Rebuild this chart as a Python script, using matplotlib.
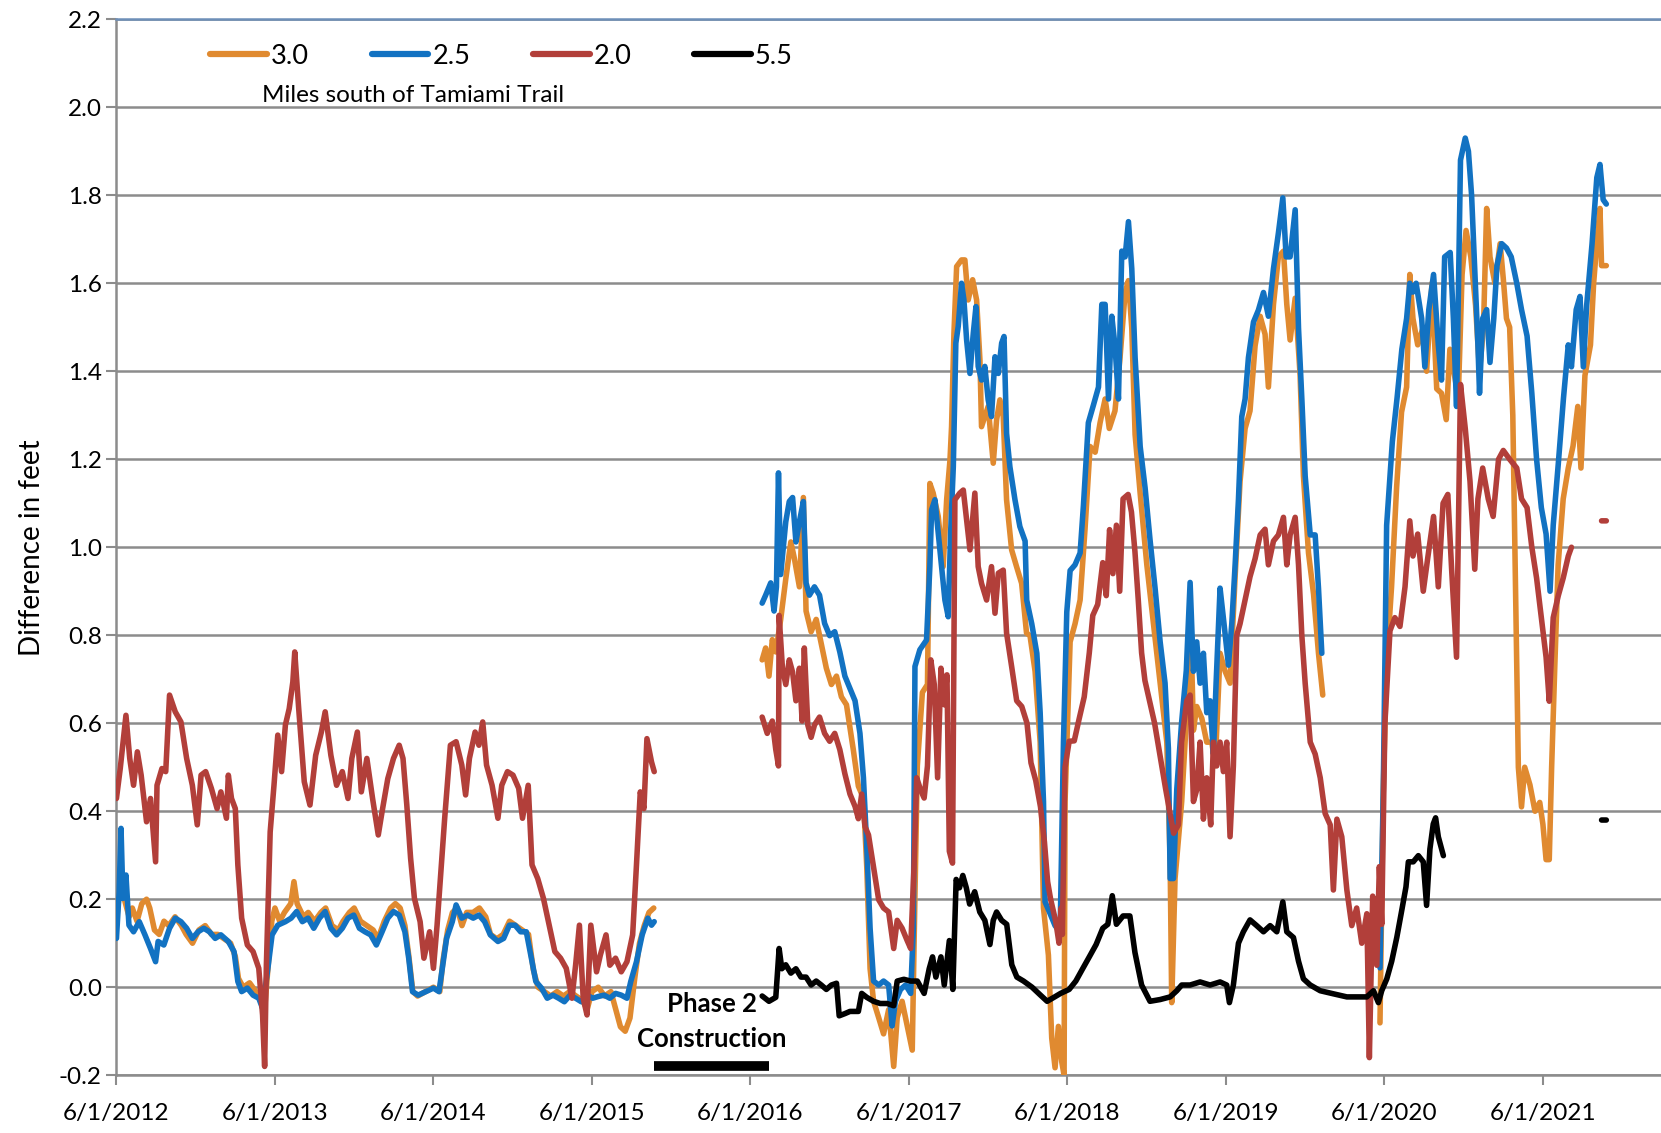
import numpy as np
import pandas as pd
import matplotlib
matplotlib.use("Agg")
import matplotlib.pyplot as plt
from matplotlib.ticker import FormatStrFormatter

plt.rcParams['font.family'] = ['Lato', 'DejaVu Sans']

# x values are years after 6/1/2012, nan marks a gap in the record
NAN = float('nan')

orange_30 = [
    (0, 0.15), (0.02, 0.22), (0.05, 0.2), (0.08, 0.16), (0.1, 0.18), (0.13, 0.15), (0.16, 0.19),
    (0.19, 0.2), (0.21, 0.18), (0.24, 0.13), (0.27, 0.12), (0.3, 0.15), (0.33, 0.14), (0.37, 0.16),
    (0.41, 0.14), (0.44, 0.12), (0.48, 0.1), (0.52, 0.13), (0.56, 0.14), (0.6, 0.12), (0.64, 0.12),
    (0.68, 0.11), (0.72, 0.1), (0.75, 0.07), (0.77, 0.02), (0.8, 0.0), (0.84, 0.01), (0.88, -0.01),
    (0.92, -0.03), (0.935, -0.05), (0.96, 0.06), (0.98, 0.15), (1.0, 0.18), (1.03, 0.15), (1.06, 0.17),
    (1.1, 0.19), (1.12, 0.24), (1.14, 0.19), (1.18, 0.16), (1.21, 0.17), (1.25, 0.15), (1.29, 0.17),
    (1.32, 0.18), (1.36, 0.14), (1.4, 0.13), (1.43, 0.15), (1.47, 0.17), (1.5, 0.18), (1.54, 0.15),
    (1.58, 0.14), (1.62, 0.13), (1.65, 0.11), (1.69, 0.15), (1.73, 0.18), (1.76, 0.19), (1.79, 0.18),
    (1.82, 0.14), (1.845, 0.07), (1.87, -0.01), (1.9, -0.02), (1.95, -0.01), (2.0, 0.0), (2.04, -0.01),
    (2.06, 0.06), (2.09, 0.13), (2.12, 0.17), (2.15, 0.18), (2.18, 0.14), (2.21, 0.17), (2.25, 0.17),
    (2.29, 0.18), (2.33, 0.16), (2.36, 0.12), (2.4, 0.11), (2.44, 0.12), (2.48, 0.15), (2.52, 0.14),
    (2.56, 0.13), (2.6, 0.12), (2.63, 0.04), (2.66, 0.0), (2.7, -0.01), (2.74, -0.02), (2.78, -0.01),
    (2.82, -0.02), (2.86, -0.01), (2.9, -0.02), (2.94, -0.03), (2.97, -0.05), (3.0, -0.01), (3.04, 0.0),
    (3.08, -0.02), (3.12, -0.01), (3.15, -0.05), (3.18, -0.09), (3.21, -0.1), (3.24, -0.07), (3.27, 0.02),
    (3.3, 0.1), (3.33, 0.14), (3.36, 0.17), (3.39, 0.18), (3.7, NAN),
    (4.074, 0.744), (4.096, 0.771), (4.117, 0.707), (4.138, 0.79), (4.16, 0.762), (4.191, 0.836),
    (4.223, 0.928), (4.255, 1.012), (4.277, 0.975), (4.309, 0.91), (4.334, 1.113), (4.351, 0.855),
    (4.383, 0.808), (4.415, 0.836), (4.447, 0.781), (4.479, 0.725), (4.511, 0.688), (4.543, 0.707),
    (4.574, 0.66), (4.606, 0.642), (4.649, 0.54), (4.681, 0.457), (4.713, 0.43), (4.734, 0.273),
    (4.755, 0.042), (4.777, -0.032), (4.809, -0.069), (4.84, -0.106), (4.872, -0.051), (4.904, -0.18),
    (4.926, -0.069), (4.957, -0.032), (4.989, -0.088), (5.021, -0.143), (5.032, 0.088), (5.053, 0.503),
    (5.085, 0.67), (5.117, 0.688), (5.132, 1.145), (5.153, 1.123), (5.185, 1.07), (5.216, 0.956),
    (5.238, 1.108), (5.259, 1.198), (5.269, 1.274), (5.284, 1.486), (5.301, 1.638), (5.332, 1.653),
    (5.353, 1.653), (5.374, 1.562), (5.402, 1.608), (5.427, 1.562), (5.448, 1.426), (5.458, 1.274),
    (5.479, 1.297), (5.5, 1.32), (5.532, 1.191), (5.553, 1.289), (5.574, 1.335), (5.595, 1.297),
    (5.616, 1.108), (5.648, 0.994), (5.679, 0.956), (5.711, 0.918), (5.742, 0.805), (5.764, 0.799),
    (5.796, 0.718), (5.828, 0.557), (5.849, 0.18), (5.88, 0.073), (5.901, -0.116), (5.922, -0.183),
    (5.943, -0.089), (5.964, -0.169), (5.979, -0.2), (5.985, 0.422), (6.017, 0.785), (6.048, 0.826),
    (6.08, 0.88), (6.111, 1.041), (6.143, 1.229), (6.175, 1.216), (6.206, 1.283), (6.238, 1.337),
    (6.264, 1.27), (6.3, 1.31), (6.332, 1.431), (6.364, 1.579), (6.385, 1.606), (6.406, 1.498),
    (6.427, 1.256), (6.459, 1.122), (6.501, 0.96), (6.543, 0.826), (6.585, 0.691), (6.627, 0.557),
    (6.648, 0.288), (6.658, -0.035), (6.679, 0.247), (6.721, 0.422), (6.753, 0.624), (6.778, 0.826),
    (6.795, 0.584), (6.816, 0.638), (6.848, 0.611), (6.879, 0.557), (6.911, 0.557), (6.932, 0.503),
    (6.963, 0.759), (6.995, 0.718), (7.026, 0.691), (7.058, 0.933), (7.089, 1.149), (7.121, 1.27),
    (7.152, 1.31), (7.184, 1.458), (7.216, 1.525), (7.247, 1.484), (7.268, 1.364), (7.3, 1.552),
    (7.331, 1.66), (7.363, 1.673), (7.384, 1.552), (7.405, 1.471), (7.437, 1.566), (7.468, 1.391),
    (7.489, 1.162), (7.521, 0.987), (7.553, 0.893), (7.584, 0.759), (7.611, 0.664), (7.8, NAN),
    (7.972, -0.081), (7.993, 0.455), (8.014, 0.739), (8.045, 0.91), (8.077, 1.137), (8.108, 1.307),
    (8.14, 1.364), (8.16, 1.62), (8.18, 1.52), (8.21, 1.46), (8.245, 1.5), (8.266, 1.4), (8.3, 1.6),
    (8.33, 1.36), (8.36, 1.35), (8.39, 1.29), (8.413, 1.45), (8.445, 1.385), (8.466, 1.34),
    (8.49, 1.62), (8.515, 1.72), (8.545, 1.66), (8.575, 1.55), (8.6, 1.4), (8.625, 1.5), (8.645, 1.77),
    (8.666, 1.66), (8.697, 1.6), (8.73, 1.69), (8.75, 1.61), (8.77, 1.52), (8.79, 1.5), (8.81, 1.3),
    (8.82, 1.07), (8.835, 0.73), (8.845, 0.5), (8.865, 0.41), (8.885, 0.5), (8.918, 0.46), (8.95, 0.4),
    (8.98, 0.42), (9.0, 0.37), (9.02, 0.29), (9.04, 0.29), (9.055, 0.5), (9.075, 0.73), (9.096, 0.96),
    (9.128, 1.11), (9.16, 1.18), (9.19, 1.23), (9.22, 1.32), (9.24, 1.18), (9.265, 1.39), (9.3, 1.46),
    (9.32, 1.6), (9.34, 1.69), (9.36, 1.77), (9.37, 1.64), (9.40, 1.64),
]

blue_25 = [
    (0, 0.111), (0.017, 0.217), (0.029, 0.361), (0.041, 0.202), (0.06, 0.255), (0.079, 0.141),
    (0.108, 0.126), (0.144, 0.149), (0.18, 0.119), (0.215, 0.088), (0.247, 0.058), (0.263, 0.104),
    (0.299, 0.096), (0.335, 0.134), (0.371, 0.157), (0.407, 0.149), (0.443, 0.134), (0.479, 0.111),
    (0.515, 0.126), (0.551, 0.134), (0.587, 0.126), (0.623, 0.111), (0.659, 0.119), (0.706, 0.104),
    (0.742, 0.081), (0.766, 0.013), (0.79, -0.01), (0.826, -0.002), (0.862, -0.018), (0.898, -0.025),
    (0.922, -0.048), (0.958, 0.05), (0.982, 0.119), (1.018, 0.141), (1.066, 0.149), (1.102, 0.157),
    (1.137, 0.172), (1.173, 0.149), (1.209, 0.157), (1.245, 0.134), (1.281, 0.157), (1.317, 0.172),
    (1.353, 0.134), (1.389, 0.119), (1.425, 0.134), (1.461, 0.157), (1.497, 0.164), (1.533, 0.134),
    (1.568, 0.126), (1.604, 0.119), (1.64, 0.096), (1.676, 0.126), (1.712, 0.157), (1.748, 0.172),
    (1.784, 0.164), (1.82, 0.126), (1.844, 0.066), (1.868, -0.01), (1.904, -0.018), (1.952, -0.01),
    (2.0, -0.002), (2.035, -0.01), (2.059, 0.05), (2.083, 0.111), (2.119, 0.149), (2.143, 0.187),
    (2.179, 0.157), (2.215, 0.164), (2.251, 0.157), (2.287, 0.164), (2.323, 0.149), (2.359, 0.119),
    (2.407, 0.104), (2.443, 0.111), (2.479, 0.141), (2.515, 0.141), (2.55, 0.126), (2.586, 0.126),
    (2.61, 0.081), (2.646, 0.013), (2.682, -0.002), (2.718, -0.025), (2.754, -0.018), (2.79, -0.025),
    (2.826, -0.033), (2.862, -0.018), (2.897, -0.025), (2.933, -0.033), (2.969, -0.018), (3.005, -0.025),
    (3.041, -0.021), (3.077, -0.018), (3.113, -0.025), (3.149, -0.014), (3.185, -0.018), (3.221, -0.025),
    (3.245, 0.013), (3.281, 0.058), (3.317, 0.119), (3.353, 0.157), (3.376, 0.141), (3.393, 0.149),
    (3.7, NAN),
    (4.074, 0.873), (4.096, 0.891), (4.128, 0.919), (4.149, 0.855), (4.164, 0.91), (4.177, 1.169),
    (4.191, 0.938), (4.223, 1.058), (4.245, 1.104), (4.266, 1.113), (4.287, 1.012), (4.309, 1.058),
    (4.334, 1.104), (4.351, 0.919), (4.372, 0.891), (4.404, 0.91), (4.436, 0.891), (4.468, 0.827),
    (4.5, 0.799), (4.532, 0.808), (4.564, 0.762), (4.596, 0.707), (4.628, 0.679), (4.66, 0.651),
    (4.691, 0.577), (4.713, 0.476), (4.734, 0.319), (4.755, 0.134), (4.777, 0.014), (4.809, 0.005),
    (4.84, 0.014), (4.872, 0.005), (4.894, -0.088), (4.915, -0.032), (4.947, -0.005), (4.979, 0.005),
    (5.011, -0.014), (5.028, 0.134), (5.038, 0.729), (5.069, 0.767), (5.111, 0.789), (5.132, 0.956),
    (5.143, 1.085), (5.164, 1.108), (5.185, 1.032), (5.206, 0.956), (5.227, 0.88), (5.248, 0.842),
    (5.263, 1.032), (5.28, 1.183), (5.296, 1.464), (5.311, 1.502), (5.332, 1.6), (5.347, 1.562),
    (5.364, 1.471), (5.385, 1.395), (5.406, 1.486), (5.423, 1.547), (5.437, 1.411), (5.458, 1.38),
    (5.479, 1.411), (5.5, 1.335), (5.521, 1.297), (5.543, 1.433), (5.564, 1.395), (5.585, 1.464),
    (5.6, 1.479), (5.616, 1.259), (5.637, 1.183), (5.669, 1.108), (5.7, 1.047), (5.733, 1.014),
    (5.743, 0.88), (5.775, 0.826), (5.807, 0.759), (5.828, 0.624), (5.849, 0.422), (5.859, 0.194),
    (5.891, 0.167), (5.922, 0.14), (5.954, 0.126), (5.975, 0.557), (5.996, 0.853), (6.017, 0.947),
    (6.048, 0.96), (6.08, 0.987), (6.101, 1.095), (6.132, 1.283), (6.164, 1.323), (6.196, 1.364),
    (6.217, 1.552), (6.238, 1.552), (6.259, 1.337), (6.28, 1.525), (6.3, 1.458), (6.322, 1.337),
    (6.343, 1.673), (6.364, 1.66), (6.385, 1.74), (6.406, 1.633), (6.427, 1.431), (6.459, 1.229),
    (6.49, 1.135), (6.522, 1.014), (6.553, 0.907), (6.585, 0.785), (6.616, 0.691), (6.637, 0.543),
    (6.648, 0.247), (6.669, 0.247), (6.69, 0.45), (6.72, 0.6), (6.75, 0.72), (6.774, 0.92),
    (6.795, 0.718), (6.816, 0.785), (6.837, 0.691), (6.858, 0.759), (6.879, 0.624), (6.9, 0.651),
    (6.921, 0.53), (6.938, 0.691), (6.963, 0.907), (6.988, 0.826), (7.016, 0.732), (7.037, 0.826),
    (7.058, 0.96), (7.079, 1.108), (7.1, 1.297), (7.121, 1.337), (7.142, 1.431), (7.174, 1.512),
    (7.205, 1.539), (7.237, 1.579), (7.268, 1.525), (7.3, 1.633), (7.331, 1.714), (7.359, 1.794),
    (7.38, 1.66), (7.405, 1.66), (7.437, 1.767), (7.458, 1.498), (7.479, 1.337), (7.5, 1.162),
    (7.532, 1.028), (7.563, 1.028), (7.584, 0.907), (7.605, 0.759), (7.8, NAN),
    (7.972, 0.044), (7.993, 0.453), (8.014, 1.05), (8.05, 1.24), (8.08, 1.34), (8.11, 1.45),
    (8.14, 1.52), (8.16, 1.6), (8.18, 1.58), (8.2, 1.6), (8.235, 1.52), (8.255, 1.41), (8.28, 1.54),
    (8.31, 1.62), (8.34, 1.46), (8.36, 1.38), (8.38, 1.66), (8.415, 1.67), (8.435, 1.52), (8.455, 1.32),
    (8.48, 1.88), (8.51, 1.93), (8.53, 1.9), (8.55, 1.8), (8.57, 1.63), (8.59, 1.46), (8.6, 1.35),
    (8.62, 1.52), (8.645, 1.54), (8.666, 1.42), (8.69, 1.52), (8.71, 1.64), (8.74, 1.69), (8.77, 1.68),
    (8.8, 1.66), (8.835, 1.6), (8.865, 1.54), (8.9, 1.48), (8.93, 1.35), (8.96, 1.2), (8.99, 1.09),
    (9.02, 1.03), (9.045, 0.9), (9.065, 1.05), (9.097, 1.19), (9.13, 1.34), (9.16, 1.46), (9.18, 1.41),
    (9.21, 1.54), (9.234, 1.57), (9.255, 1.41), (9.276, 1.55), (9.31, 1.69), (9.34, 1.84), (9.36, 1.87),
    (9.38, 1.79), (9.40, 1.78),
]

red_20 = [
    (0, 0.429), (0.024, 0.497), (0.06, 0.618), (0.084, 0.52), (0.108, 0.459), (0.132, 0.535),
    (0.156, 0.482), (0.19, 0.376), (0.215, 0.429), (0.247, 0.285), (0.256, 0.459), (0.287, 0.497),
    (0.311, 0.49), (0.335, 0.664), (0.371, 0.626), (0.407, 0.603), (0.443, 0.52), (0.479, 0.459),
    (0.51, 0.369), (0.534, 0.482), (0.563, 0.49), (0.599, 0.452), (0.635, 0.406), (0.659, 0.444),
    (0.694, 0.384), (0.706, 0.482), (0.726, 0.429), (0.75, 0.406), (0.766, 0.278), (0.79, 0.157),
    (0.826, 0.096), (0.862, 0.081), (0.898, 0.043), (0.922, -0.063), (0.935, -0.18), (0.946, 0.05),
    (0.97, 0.353), (0.994, 0.459), (1.018, 0.573), (1.042, 0.49), (1.066, 0.596), (1.09, 0.633),
    (1.113, 0.694), (1.125, 0.762), (1.15, 0.633), (1.185, 0.467), (1.221, 0.414), (1.257, 0.527),
    (1.293, 0.58), (1.317, 0.626), (1.353, 0.527), (1.389, 0.459), (1.425, 0.49), (1.461, 0.429),
    (1.485, 0.52), (1.52, 0.58), (1.545, 0.444), (1.58, 0.52), (1.616, 0.429), (1.652, 0.346),
    (1.676, 0.399), (1.712, 0.474), (1.748, 0.52), (1.784, 0.55), (1.808, 0.52), (1.832, 0.414),
    (1.856, 0.293), (1.88, 0.202), (1.916, 0.149), (1.94, 0.066), (1.976, 0.126), (2.0, 0.043),
    (2.023, 0.141), (2.047, 0.263), (2.071, 0.384), (2.107, 0.55), (2.143, 0.558), (2.179, 0.505),
    (2.203, 0.437), (2.227, 0.52), (2.263, 0.58), (2.287, 0.55), (2.311, 0.603), (2.335, 0.505),
    (2.37, 0.459), (2.407, 0.384), (2.431, 0.459), (2.467, 0.49), (2.502, 0.482), (2.538, 0.452),
    (2.562, 0.384), (2.598, 0.459), (2.622, 0.278), (2.658, 0.247), (2.694, 0.202), (2.73, 0.141),
    (2.766, 0.081), (2.802, 0.066), (2.838, 0.043), (2.874, -0.025), (2.897, 0.05), (2.921, 0.141),
    (2.945, -0.025), (2.969, -0.063), (2.993, 0.141), (3.029, 0.035), (3.053, 0.073), (3.089, 0.119),
    (3.113, 0.05), (3.149, 0.066), (3.185, 0.035), (3.221, 0.058), (3.257, 0.119), (3.281, 0.278),
    (3.305, 0.444), (3.328, 0.406), (3.347, 0.565), (3.376, 0.512), (3.393, 0.49), (3.7, NAN),
    (4.074, 0.614), (4.106, 0.577), (4.138, 0.605), (4.16, 0.54), (4.177, 0.503), (4.181, 0.845),
    (4.202, 0.725), (4.223, 0.688), (4.245, 0.744), (4.266, 0.716), (4.287, 0.651), (4.309, 0.725),
    (4.326, 0.605), (4.34, 0.771), (4.362, 0.596), (4.383, 0.568), (4.404, 0.596), (4.436, 0.614),
    (4.468, 0.577), (4.5, 0.559), (4.532, 0.577), (4.564, 0.54), (4.596, 0.485), (4.628, 0.439),
    (4.66, 0.411), (4.681, 0.383), (4.702, 0.439), (4.723, 0.365), (4.745, 0.346), (4.777, 0.273),
    (4.809, 0.199), (4.84, 0.18), (4.872, 0.171), (4.904, 0.088), (4.926, 0.152), (4.957, 0.134),
    (4.989, 0.106), (5.011, 0.088), (5.032, 0.273), (5.049, 0.476), (5.074, 0.448), (5.096, 0.43),
    (5.117, 0.503), (5.138, 0.744), (5.16, 0.688), (5.181, 0.476), (5.202, 0.725), (5.223, 0.642),
    (5.24, 0.71), (5.255, 0.309), (5.275, 0.282), (5.29, 1.108), (5.321, 1.123), (5.343, 1.13),
    (5.364, 1.062), (5.385, 0.994), (5.416, 1.123), (5.437, 0.956), (5.458, 0.918), (5.49, 0.88),
    (5.521, 0.956), (5.543, 0.85), (5.564, 0.941), (5.595, 0.948), (5.616, 0.805), (5.648, 0.729),
    (5.68, 0.651), (5.712, 0.638), (5.745, 0.6), (5.77, 0.51), (5.8, 0.47), (5.83, 0.41), (5.855, 0.33),
    (5.875, 0.24), (5.894, 0.2), (5.926, 0.15), (5.947, 0.1), (5.96, 0.18), (5.968, 0.12), (5.985, 0.5),
    (6.011, 0.559), (6.043, 0.56), (6.074, 0.61), (6.106, 0.66), (6.138, 0.76), (6.16, 0.845),
    (6.191, 0.87), (6.223, 0.965), (6.245, 0.89), (6.266, 1.04), (6.287, 0.94), (6.309, 1.05),
    (6.33, 0.9), (6.351, 1.11), (6.383, 1.12), (6.404, 1.08), (6.426, 0.99), (6.447, 0.88), (6.468, 0.76),
    (6.489, 0.697), (6.55, 0.6), (6.62, 0.45), (6.67, 0.35), (6.7, 0.369), (6.72, 0.557), (6.753, 0.651),
    (6.774, 0.664), (6.795, 0.422), (6.816, 0.449), (6.837, 0.557), (6.858, 0.382), (6.879, 0.476),
    (6.904, 0.369), (6.921, 0.557), (6.942, 0.503), (6.963, 0.557), (6.984, 0.49), (7.005, 0.557),
    (7.026, 0.342), (7.047, 0.503), (7.068, 0.799), (7.089, 0.826), (7.121, 0.88), (7.152, 0.933),
    (7.184, 0.974), (7.216, 1.028), (7.247, 1.041), (7.268, 0.96), (7.3, 1.014), (7.331, 1.028),
    (7.363, 1.068), (7.384, 0.96), (7.405, 1.028), (7.437, 1.068), (7.458, 0.96), (7.479, 0.799),
    (7.5, 0.691), (7.532, 0.557), (7.563, 0.53), (7.595, 0.476), (7.626, 0.395), (7.658, 0.369),
    (7.678, 0.221), (7.7, 0.382), (7.731, 0.342), (7.763, 0.221), (7.794, 0.14), (7.825, 0.18),
    (7.857, 0.1), (7.889, 0.167), (7.905, -0.16), (7.926, 0.207), (7.952, 0.05), (7.968, 0.274),
    (7.983, 0.143), (8.003, 0.6), (8.035, 0.81), (8.066, 0.84), (8.098, 0.82), (8.13, 0.91),
    (8.16, 1.06), (8.18, 0.98), (8.21, 1.03), (8.245, 0.9), (8.275, 0.98), (8.31, 1.07), (8.34, 0.91),
    (8.37, 1.1), (8.4, 1.12), (8.424, 0.95), (8.455, 0.75), (8.48, 1.37), (8.51, 1.27), (8.54, 1.15),
    (8.57, 0.95), (8.59, 1.11), (8.62, 1.18), (8.655, 1.11), (8.686, 1.07), (8.72, 1.2), (8.75, 1.22),
    (8.79, 1.2), (8.835, 1.18), (8.865, 1.11), (8.9, 1.09), (8.93, 1.0), (8.96, 0.93), (8.99, 0.84),
    (9.02, 0.75), (9.04, 0.65), (9.065, 0.84), (9.097, 0.89), (9.128, 0.93), (9.16, 0.98), (9.18, 1.0),
    (9.28, NAN), (9.37, 1.06), (9.40, 1.06),
]

black_55 = [
    (4.074, -0.02), (4.085, -0.023), (4.117, -0.032), (4.16, -0.023), (4.181, 0.088), (4.198, 0.042),
    (4.223, 0.051), (4.255, 0.032), (4.287, 0.042), (4.319, 0.023), (4.351, 0.023), (4.383, 0.005),
    (4.415, 0.014), (4.447, 0.005), (4.479, -0.005), (4.511, 0.005), (4.543, 0.009), (4.56, -0.065),
    (4.596, -0.06), (4.628, -0.055), (4.681, -0.055), (4.702, -0.014), (4.734, -0.023), (4.777, -0.032),
    (4.819, -0.037), (4.862, -0.037), (4.904, -0.042), (4.926, 0.014), (4.968, 0.018), (5.011, 0.014),
    (5.053, 0.014), (5.096, -0.014), (5.128, 0.042), (5.149, 0.069), (5.17, 0.023), (5.202, 0.069),
    (5.223, 0.005), (5.255, 0.106), (5.277, -0.005), (5.298, 0.245), (5.319, 0.226), (5.34, 0.254),
    (5.362, 0.226), (5.383, 0.189), (5.415, 0.217), (5.447, 0.171), (5.479, 0.152), (5.511, 0.097),
    (5.532, 0.152), (5.553, 0.171), (5.585, 0.152), (5.617, 0.143), (5.649, 0.051), (5.681, 0.023),
    (5.723, 0.014), (5.777, 0.0), (5.83, -0.018), (5.872, -0.032), (5.915, -0.023), (5.957, -0.014),
    (6.011, -0.005), (6.053, 0.014), (6.096, 0.042), (6.138, 0.069), (6.181, 0.097), (6.223, 0.134),
    (6.255, 0.143), (6.283, 0.208), (6.309, 0.143), (6.351, 0.162), (6.394, 0.162), (6.426, 0.079),
    (6.468, 0.005), (6.521, -0.032), (6.585, -0.028), (6.648, -0.022), (6.69, -0.008), (6.721, 0.005),
    (6.774, 0.005), (6.837, 0.012), (6.9, 0.005), (6.963, 0.012), (7.005, 0.005), (7.022, -0.035),
    (7.047, 0.005), (7.079, 0.1), (7.11, 0.126), (7.152, 0.153), (7.194, 0.14), (7.237, 0.126),
    (7.279, 0.14), (7.321, 0.126), (7.359, 0.194), (7.384, 0.126), (7.426, 0.113), (7.458, 0.059),
    (7.489, 0.019), (7.532, 0.005), (7.595, -0.008), (7.678, -0.015), (7.763, -0.022), (7.847, -0.022),
    (7.889, -0.022), (7.931, -0.008), (7.962, -0.035), (7.983, -0.008), (8.015, 0.019), (8.046, 0.059),
    (8.078, 0.113), (8.108, 0.172), (8.136, 0.228), (8.151, 0.285), (8.182, 0.285), (8.214, 0.299),
    (8.245, 0.285), (8.266, 0.186), (8.287, 0.314), (8.308, 0.371), (8.323, 0.385), (8.34, 0.342),
    (8.372, 0.299), (8.8, NAN), (9.37, 0.38), (9.40, 0.38),
]

series_labels = ["3.0", "2.5", "2.0", "5.5"]
series_colors = ["#E08A30", "#1272C2", "#B23F3A", "#000000"]
phase2_span = (3.39, 4.12)   # years after 6/1/2012
tick_years = list(range(2012, 2022))

start = pd.Timestamp("2012-06-01")


def to_dates(yrs):
    return start + pd.to_timedelta(np.asarray(yrs, dtype=float) * 365.25, unit="D")


fig = plt.figure(figsize=(16.61, 11.33), dpi=100)
ax = fig.add_axes([0.0701, 0.051, 0.9299, 0.932])

handles = []
for data, lab, col in zip([orange_30, blue_25, red_20, black_55], series_labels, series_colors):
    arr = np.array(data, dtype=float)
    h, = ax.plot(to_dates(arr[:, 0]), arr[:, 1], color=col, lw=4.0, label=lab,
                 solid_joinstyle="round", solid_capstyle="round", zorder=3)
    handles.append(h)

# construction period bar and label
mid = to_dates([(phase2_span[0] + phase2_span[1]) / 2])[0]
ax.plot(to_dates(list(phase2_span)), [-0.178, -0.178], color="black", lw=7,
        solid_capstyle="butt", zorder=4)
ax.text(mid, -0.038, "Phase 2", ha="center", va="center", fontsize=18.5, fontweight="bold")
ax.text(mid, -0.118, "Construction", ha="center", va="center", fontsize=18.5, fontweight="bold")

ax.set_ylim(-0.2, 2.2)
ax.set_yticks(np.arange(-0.2, 2.21, 0.2))
ax.yaxis.set_major_formatter(FormatStrFormatter("%.1f"))
ax.set_xlim(start, to_dates([9.745])[0])
ax.set_xticks(pd.to_datetime([f"{y}-06-01" for y in tick_years]))
ax.set_xticklabels([f"6/1/{y}" for y in tick_years])

ax.grid(axis="y", color="#8c8c8c", lw=1.8, zorder=0)
ax.set_axisbelow(True)
for s in ["left", "bottom"]:
    ax.spines[s].set_color("#8c8c8c")
    ax.spines[s].set_linewidth(1.8)
ax.spines["top"].set_color("#6d8fb8")
ax.spines["top"].set_linewidth(1.8)
ax.spines["right"].set_visible(False)
ax.tick_params(axis="both", colors="#8c8c8c", labelcolor="black", length=7, width=1.5,
               labelsize=17.5)
ax.tick_params(axis="x", pad=13)

ax.set_ylabel("Difference in feet", fontsize=20, labelpad=10)

leg = ax.legend(handles=handles, loc="upper left", bbox_to_anchor=(0.045, 1.0), ncol=4,
                frameon=False, fontsize=19.5, handlelength=2.1, handletextpad=0.15,
                columnspacing=2.3)
for ln in leg.get_lines():
    ln.set_linewidth(4.5)
ax.text(0.094, 0.928, "Miles south of Tamiami Trail", transform=ax.transAxes,
        fontsize=17.5, va="center", ha="left")

fig.savefig("out.png", dpi=100)
